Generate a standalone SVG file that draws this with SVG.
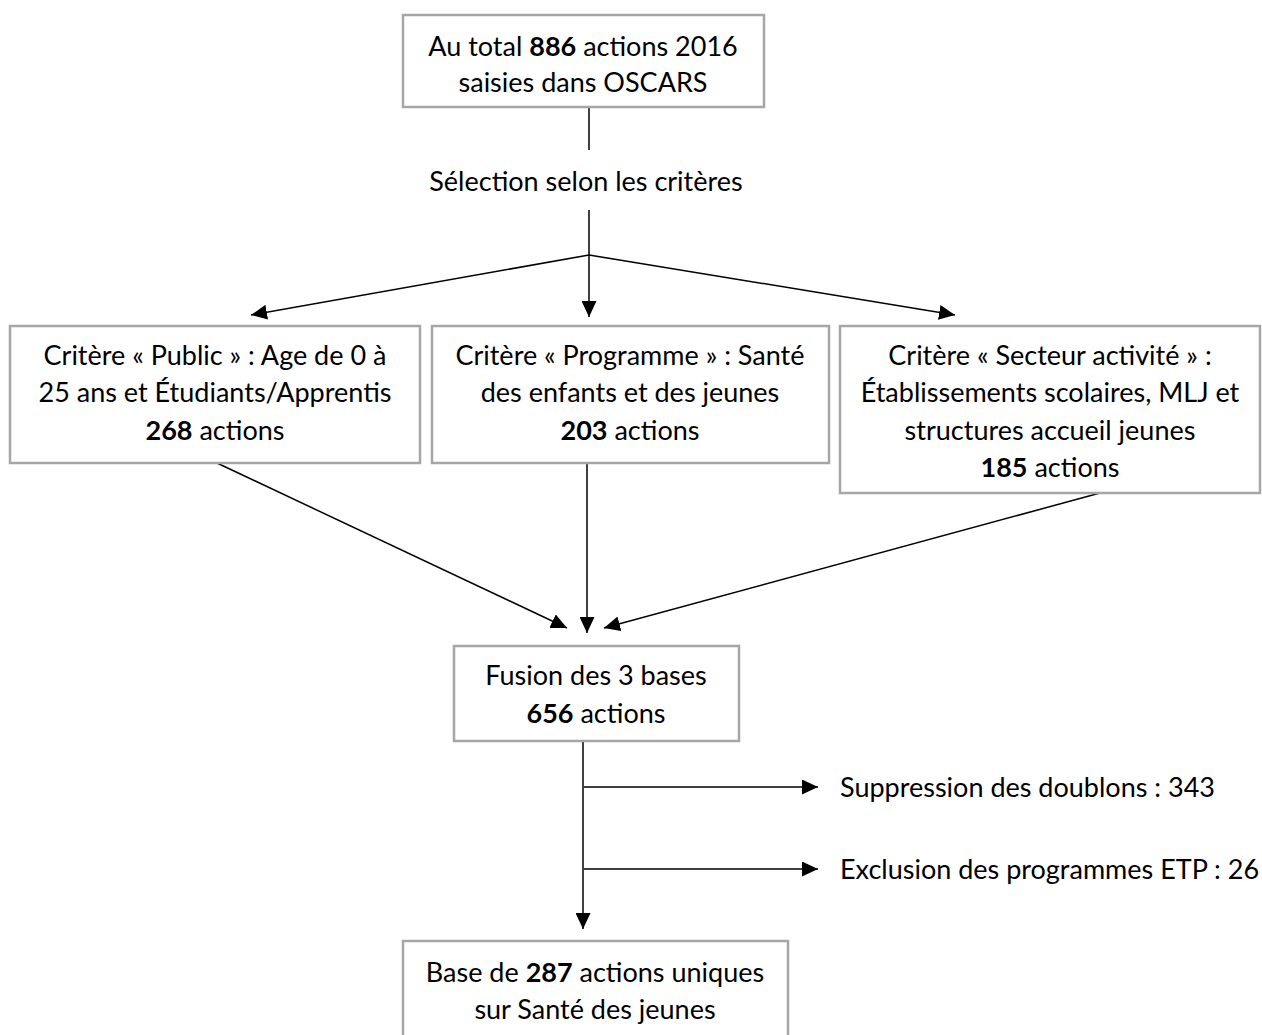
<svg xmlns="http://www.w3.org/2000/svg" width="1262" height="1035" viewBox="0 0 1262 1035">
<style>
.box{fill:#fff;stroke:#A6A6A6;stroke-width:2.5}
.t{font-family:Lato,"Liberation Sans",sans-serif;font-size:27px;fill:#000;text-anchor:middle}
.l{text-anchor:start}
.b{font-weight:bold}
.c{stroke:#000;stroke-width:1.5;fill:none}
</style>
<defs>
<marker id="ah" viewBox="0 0 16 15" refX="16" refY="7.5" markerWidth="16" markerHeight="15" markerUnits="userSpaceOnUse" orient="auto">
<path d="M0,0 L16,7.5 L0,15 Z" fill="#000"/>
</marker>
</defs>
<rect width="1262" height="1035" fill="#fff"/>
<g id="connectors">
<line class="c" x1="589" y1="107" x2="589" y2="150"/>
<line class="c" x1="589" y1="210" x2="589" y2="255"/>
<line class="c" x1="589" y1="255" x2="251" y2="315" marker-end="url(#ah)"/>
<line class="c" x1="589" y1="255" x2="589" y2="317" marker-end="url(#ah)"/>
<line class="c" x1="589" y1="255" x2="955" y2="315" marker-end="url(#ah)"/>
<line class="c" x1="217" y1="463" x2="567" y2="628" marker-end="url(#ah)"/>
<line class="c" x1="587" y1="463" x2="587" y2="633" marker-end="url(#ah)"/>
<line class="c" x1="1100" y1="493" x2="604" y2="628" marker-end="url(#ah)"/>
<line class="c" x1="583" y1="741" x2="583" y2="929" marker-end="url(#ah)"/>
<line class="c" x1="584" y1="787" x2="818" y2="787" marker-end="url(#ah)"/>
<line class="c" x1="584" y1="869" x2="818" y2="869" marker-end="url(#ah)"/>
</g>
<g id="n1">
<rect class="box" x="403" y="15" width="361" height="92"/>
<text class="t" x="583" y="56">Au total <tspan class="b">886</tspan> actions 2016</text>
<text class="t" x="583" y="92">saisies dans OSCARS</text>
</g>
<g id="n2">
<text class="t" x="586" y="191">Sélection selon les critères</text>
</g>
<g id="n3">
<rect class="box" x="10" y="326" width="410" height="137"/>
<text class="t" x="215" y="365">Critère « Public » : Age de 0 à</text>
<text class="t" x="215" y="402">25 ans et Étudiants/Apprentis</text>
<text class="t" x="215" y="440"><tspan class="b">268</tspan> actions</text>
</g>
<g id="n4">
<rect class="box" x="432" y="326" width="397" height="137"/>
<text class="t" x="630" y="365">Critère « Programme » : Santé</text>
<text class="t" x="630" y="402">des enfants et des jeunes</text>
<text class="t" x="630" y="440"><tspan class="b">203</tspan> actions</text>
</g>
<g id="n5">
<rect class="box" x="840" y="326" width="420" height="167"/>
<text class="t" x="1050" y="365">Critère « Secteur activité » :</text>
<text class="t" x="1050" y="402">Établissements scolaires, MLJ et</text>
<text class="t" x="1050" y="440">structures accueil jeunes</text>
<text class="t" x="1050" y="477"><tspan class="b">185</tspan> actions</text>
</g>
<g id="n6">
<rect class="box" x="454" y="646" width="285" height="95"/>
<text class="t" x="596" y="685">Fusion des 3 bases</text>
<text class="t" x="596" y="723"><tspan class="b">656</tspan> actions</text>
</g>
<g id="n7">
<text class="t l" x="840" y="797">Suppression des doublons : 343</text>
<text class="t l" x="840" y="879">Exclusion des programmes ETP : 26</text>
</g>
<g id="n8">
<rect class="box" x="403" y="941" width="385" height="100"/>
<text class="t" x="595" y="982">Base de <tspan class="b">287</tspan> actions uniques</text>
<text class="t" x="595" y="1019">sur Santé des jeunes</text>
</g>
</svg>
